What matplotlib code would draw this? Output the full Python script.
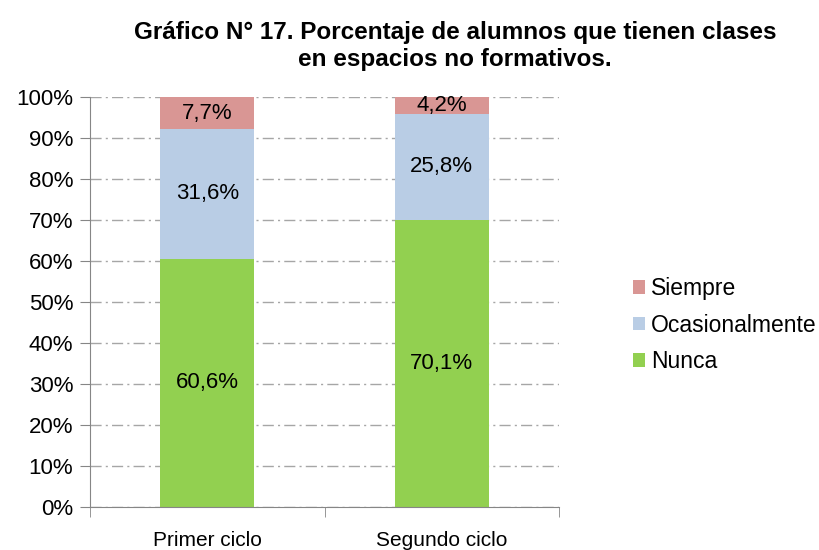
import matplotlib
matplotlib.use("Agg")
import matplotlib.pyplot as plt
from matplotlib.ticker import FixedLocator, PercentFormatter

plt.rcParams['font.family'] = ['Liberation Sans', 'DejaVu Sans']

categories = ["Primer ciclo", "Segundo ciclo"]
nunca = [60.6, 70.1]
ocasional = [31.6, 25.8]
siempre = [7.7, 4.2]
series_names = ["Nunca", "Ocasionalmente", "Siempre"]
colors = ["#92D050", "#B9CDE5", "#D99694"]
title = "Gráfico N° 17. Porcentaje de alumnos que tienen clases\nen espacios no formativos."

fig = plt.figure(figsize=(8.2, 5.5), dpi=100)
ax = fig.add_axes([0.1098, 0.078, 0.572, 0.7456])

x = [0, 1]
bottoms = [0, 0]
handles = []
for vals, name, col in zip([nunca, ocasional, siempre], series_names, colors):
    bars = ax.bar(x, vals, width=0.4, bottom=bottoms, color=col, label=name, zorder=2)
    handles.append(bars)
    for xi, v, b in zip(x, vals, bottoms):
        ax.text(xi, b + v / 2, f"{v:.1f}%".replace(".", ","), ha="center", va="center",
                fontsize=16, color="black", zorder=3)
    bottoms = [b + v for b, v in zip(bottoms, vals)]

ax.set_xlim(-0.5, 1.5)
ax.set_ylim(0, 100)
ax.set_yticks(range(0, 101, 10))
ax.yaxis.set_major_formatter(PercentFormatter(decimals=0))
ax.tick_params(axis="y", labelsize=16, length=7, color="#868686", direction="out", pad=5)
ax.set_xticks(x)
ax.set_xticklabels(categories, fontsize=15)
ax.tick_params(axis="x", length=0, pad=17)
ax.xaxis.set_minor_locator(FixedLocator([-0.5, 0.5, 1.5]))
ax.tick_params(axis="x", which="minor", length=7, color="#868686", direction="out")

ax.grid(axis="y", color="#A6A6A6", linestyle=(0, (8, 3, 1.5, 3)), linewidth=1, zorder=0)
ax.set_axisbelow(True)
for s in ["top", "right"]:
    ax.spines[s].set_visible(False)
for s in ["left", "bottom"]:
    ax.spines[s].set_color("#868686")

fig.text(0.555, 0.962, title, ha="center", va="top", fontsize=17.5, fontweight="bold", linespacing=1.25)

leg = ax.legend(handles=handles[::-1], labels=series_names[::-1], loc="center left",
                bbox_to_anchor=(1.157, 0.444), frameon=False, fontsize=16.5,
                handlelength=0.55, handleheight=0.55, handletextpad=0.25, labelspacing=0.6,
                borderaxespad=0, borderpad=0)

fig.savefig("out.png", dpi=100)
